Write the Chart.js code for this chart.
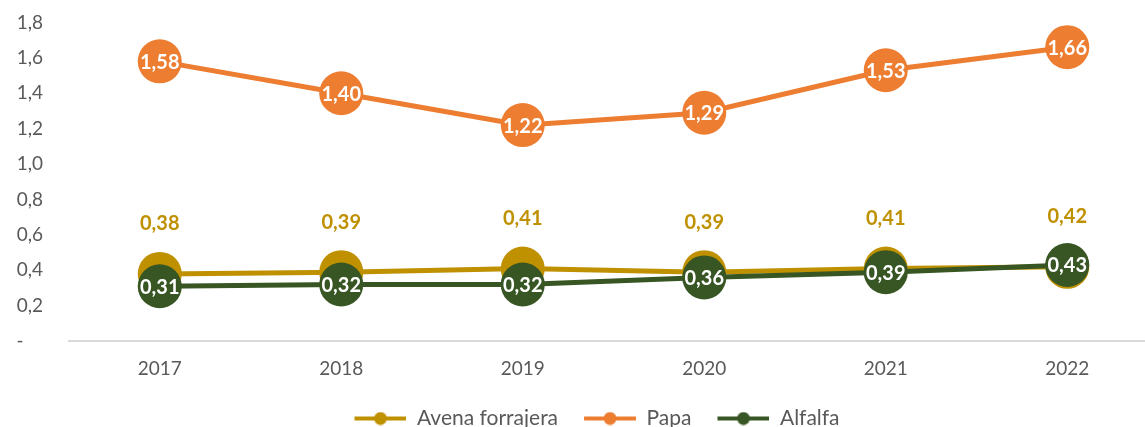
<!DOCTYPE html>
<html>
<head>
<meta charset="utf-8">
<script src="https://cdn.jsdelivr.net/npm/chart.js@4.4.0/dist/chart.umd.min.js"></script>
<style>
  html, body { margin: 0; padding: 0; background: #fff; overflow: hidden; }
  #wrap { width: 1180px; height: 454px; margin-top: -15px; position: relative; }
</style>
</head>
<body>
<div id="wrap"><canvas id="trendChart"></canvas></div>
<script>
const years = ['2017', '2018', '2019', '2020', '2021', '2022'];
const avena = [0.38, 0.39, 0.41, 0.39, 0.41, 0.42];
const papa = [1.58, 1.40, 1.22, 1.29, 1.53, 1.66];
const alfalfa = [0.31, 0.32, 0.32, 0.36, 0.39, 0.43];
const yTicks = [0, 0.2, 0.4, 0.6, 0.8, 1.0, 1.2, 1.4, 1.6, 1.8];

const FONT = 'Lato, "Liberation Sans", sans-serif';
const fmt = v => v.toFixed(2).replace('.', ',');

// line + dot legend marker (blank strip on the left acts as item gap)
function legendMarker(color) {
    const c = document.createElement('canvas');
    c.width = 66; c.height = 14;
    const g = c.getContext('2d');
    g.strokeStyle = color;
    g.lineWidth = 4;
    g.beginPath(); g.moveTo(14, 7); g.lineTo(66, 7); g.stroke();
    g.fillStyle = color;
    g.beginPath(); g.arc(40, 7, 6.5, 0, Math.PI * 2); g.fill();
    return c;
}

const valueLabels = {
    id: 'valueLabels',
    afterDatasetsDraw(chart) {
        const ctx = chart.ctx;
        ctx.save();
        ctx.textAlign = 'center';
        ctx.textBaseline = 'middle';
        ctx.font = 'bold 20px ' + FONT;
        chart.data.datasets.forEach((ds, i) => {
            const meta = chart.getDatasetMeta(i);
            meta.data.forEach((pt, j) => {
                const v = ds.data[j];
                if (ds.labelAbove) {
                    ctx.fillStyle = ds.borderColor;
                    ctx.fillText(fmt(v), pt.x, pt.y - 50);
                } else {
                    ctx.fillStyle = '#ffffff';
                    ctx.fillText(fmt(v), pt.x, pt.y + 1);
                }
            });
        });
        ctx.restore();
    }
};

const ctx = document.getElementById('trendChart').getContext('2d');
new Chart(ctx, {
    type: 'line',
    data: {
        labels: years,
        datasets: [
            {
                label: 'Avena forrajera',
                data: avena,
                borderColor: '#BF9000',
                backgroundColor: '#BF9000',
                borderWidth: 5,
                pointRadius: 22,
                pointBorderWidth: 0,
                labelAbove: true,
                order: 2,
                legendImg: legendMarker('#BF9000')
            },
            {
                label: 'Papa',
                data: papa,
                borderColor: '#ED7D31',
                backgroundColor: '#ED7D31',
                borderWidth: 5,
                pointRadius: 22,
                pointBorderWidth: 0,
                order: 1,
                legendImg: legendMarker('#ED7D31')
            },
            {
                label: 'Alfalfa',
                data: alfalfa,
                borderColor: '#375623',
                backgroundColor: '#375623',
                borderWidth: 5,
                pointRadius: 22,
                pointBorderWidth: 0,
                order: 0,
                legendImg: legendMarker('#375623')
            }
        ]
    },
    options: {
        responsive: true,
        maintainAspectRatio: false,
        animation: false,
        layout: { padding: { top: 0, left: 0, right: 0, bottom: 0 } },
        plugins: {
            tooltip: { enabled: false },
            legend: {
                position: 'bottom',
                labels: {
                    usePointStyle: true,
                    pointStyleWidth: 66,
                    padding: 12,
                    color: '#595959',
                    font: { family: FONT, size: 21 },
                    generateLabels(chart) {
                        return chart.data.datasets.map((ds, i) => ({
                            text: ds.label,
                            fillStyle: ds.borderColor,
                            strokeStyle: ds.borderColor,
                            fontColor: '#595959',
                            pointStyle: ds.legendImg,
                            lineWidth: 0,
                            hidden: false,
                            datasetIndex: i
                        }));
                    }
                }
            }
        },
        scales: {
            x: {
                offset: true,
                grid: { display: false, drawTicks: false },
                border: { display: true, color: '#D9D9D9', width: 2 },
                ticks: {
                    color: '#595959',
                    font: { family: FONT, size: 19 },
                    padding: 16
                }
            },
            y: {
                min: 0,
                max: 1.8,
                afterBuildTicks: scale => { scale.ticks = yTicks.map(v => ({ value: v })); },
                afterFit: scale => { scale.width = 69; },
                grid: { display: false, drawTicks: false },
                border: { display: false },
                ticks: {
                    color: '#595959',
                    font: { family: FONT, size: 19 },
                    padding: 26,
                    callback: v => v === 0 ? '-    ' : v.toFixed(1).replace('.', ',')
                }
            }
        }
    },
    plugins: [valueLabels]
});
</script>
</body>
</html>
